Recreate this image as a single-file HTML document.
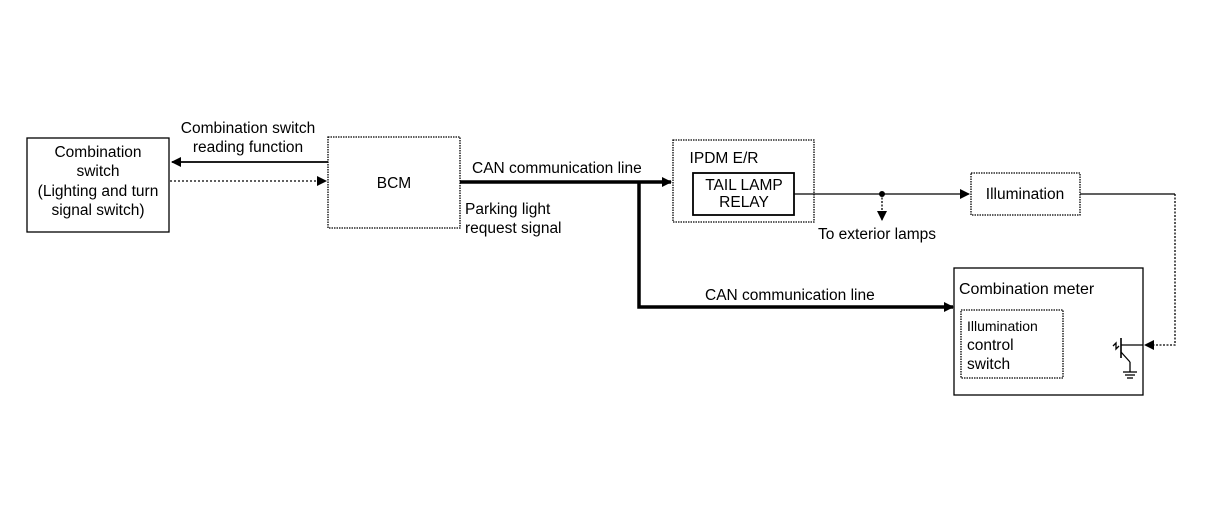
<!DOCTYPE html>
<html><head><style>body{margin:0;background:#fff}</style></head><body>
<svg width="1216" height="512" xmlns="http://www.w3.org/2000/svg" font-family="Liberation Sans, sans-serif" font-size="15.5" fill="#000">
<defs><marker id="a" markerWidth="10" markerHeight="10" refX="9" refY="5" orient="auto" markerUnits="userSpaceOnUse"><path d="M0,0L10,5L0,10z"/></marker></defs>
<g fill="none" stroke="#000" stroke-width="1.3">
<rect x="27" y="138" width="142" height="94"/>
<rect x="328" y="137" width="132" height="91" stroke-dasharray="1.5,1"/>
<rect x="673" y="140" width="141" height="82" stroke-dasharray="1.5,1"/>
<rect x="693" y="173" width="101" height="42" stroke-width="1.8"/>
<rect x="971" y="173" width="109" height="42" stroke-dasharray="1.5,1"/>
<rect x="954" y="268" width="189" height="127"/>
<rect x="961" y="310" width="102" height="68" stroke-dasharray="1.5,1"/>
<line x1="328" y1="162" x2="172" y2="162" stroke-width="1.8" marker-end="url(#a)"/>
<line x1="170" y1="181" x2="326" y2="181" stroke-dasharray="2,2" marker-end="url(#a)"/>
<polyline points="460,182 671,182" stroke-width="3.5" marker-end="url(#a)"/>
<polyline points="639,182 639,307 953,307" stroke-width="3.5" marker-end="url(#a)"/>
<line x1="794" y1="194" x2="969" y2="194" marker-end="url(#a)"/>
<line x1="882" y1="194" x2="882" y2="220" stroke-dasharray="2,1.5" marker-end="url(#a)"/>
<line x1="1080" y1="194" x2="1175" y2="194"/>
<polyline points="1175,194 1175,345 1145,345" stroke-dasharray="2,1.5" marker-end="url(#a)"/>
<line x1="1121" y1="338" x2="1121" y2="358" stroke-width="1.6"/>
<line x1="1121" y1="345" x2="1143" y2="345"/>
<line x1="1121" y1="352" x2="1130" y2="362"/>
<line x1="1130" y1="362" x2="1130" y2="372"/>
<line x1="1123" y1="372" x2="1137" y2="372"/>
<line x1="1125" y1="375" x2="1135" y2="375"/>
<line x1="1127" y1="378" x2="1133" y2="378"/>
<path d="M1113,346 l3,-3 l0,6 l3,-3"/>
</g>
<circle cx="882" cy="194" r="3"/>
<g text-anchor="middle">
<text x="98" y="157">Combination</text>
<text x="98" y="176">switch</text>
<text x="98" y="196">(Lighting and turn</text>
<text x="98" y="215">signal switch)</text>
<text x="248" y="133">Combination switch</text>
<text x="248" y="152">reading function</text>
<text x="394" y="188">BCM</text>
<text x="724" y="163">IPDM E/R</text>
<text x="744" y="190">TAIL LAMP</text>
<text x="744" y="207">RELAY</text>
<text x="1025" y="199">Illumination</text>
</g>
<text x="472" y="173">CAN communication line</text>
<text x="465" y="214">Parking light</text>
<text x="465" y="233">request signal</text>
<text x="818" y="239">To exterior lamps</text>
<text x="705" y="300">CAN communication line</text>
<text x="959" y="294" font-size="16">Combination meter</text>
<text x="967" y="331" font-size="14">Illumination</text>
<text x="967" y="350">control</text>
<text x="967" y="369">switch</text>
</svg>
</body></html>
